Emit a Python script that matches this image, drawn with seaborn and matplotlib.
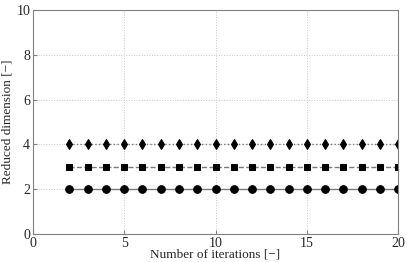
import matplotlib
matplotlib.use("Agg")
import matplotlib.pyplot as plt
import pandas as pd
import seaborn as sns

iterations = list(range(2, 21))
dim_a = [2] * len(iterations)
dim_b = [3] * len(iterations)
dim_c = [4] * len(iterations)

sns.set_style("ticks")
plt.rcParams["font.family"] = ["Liberation Serif", "DejaVu Serif"]

fig = plt.figure(figsize=(4.07, 2.62), dpi=100)
ax = fig.add_axes([0.081, 0.107, 0.897, 0.855])

styles = [(dim_a, "o", "-", 5.5), (dim_b, "s", "--", 4.5), (dim_c, "d", ":", 5.5)]
for vals, mk, ls, ms in styles:
    df = pd.DataFrame({"it": iterations, "dim": vals})
    sns.lineplot(data=df, x="it", y="dim", ax=ax, color="#7a7a7a", linestyle=ls, lw=1.0,
                 marker=mk, markersize=ms, markerfacecolor="black", markeredgecolor="black")

ax.set_xlim(0, 20)
ax.set_ylim(0, 10)
ax.set_xticks([0, 5, 10, 15, 20])
ax.set_yticks([0, 2, 4, 6, 8, 10])
ax.grid(True, linestyle=":", color="#c8c8c8", lw=0.7)
ax.tick_params(direction="in", length=3, labelsize=10, pad=2, color="#808080")
for s in ax.spines.values():
    s.set_color("#808080")
    s.set_linewidth(0.8)
ax.set_xlabel("Number of iterations [\u2212]", fontsize=9.5, labelpad=-1)
ax.set_ylabel("Reduced dimension [\u2212]", fontsize=9.5, labelpad=2)

fig.savefig("out.png", dpi=100)
